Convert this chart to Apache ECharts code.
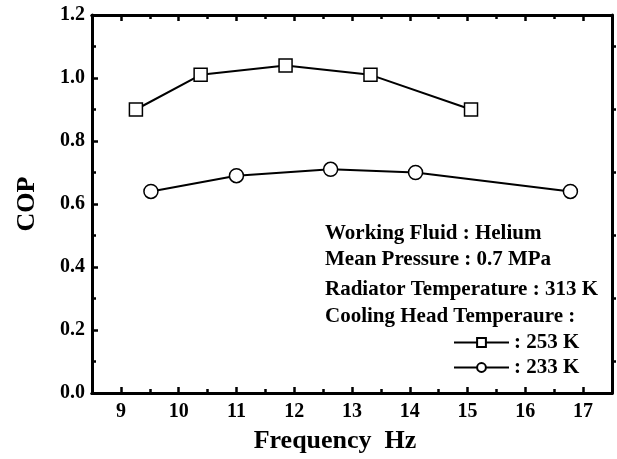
<!DOCTYPE html>
<html>
<head>
<meta charset="utf-8">
<script src="https://cdn.jsdelivr.net/npm/echarts@6/dist/echarts.min.js"></script>
<style>html,body{margin:0;padding:0;background:#fff}#c{width:617px;height:459px}</style>
</head>
<body>
<div id="c"></div>
<script>
const freq253 = [9.26, 10.38, 11.85, 13.32, 15.06];
const cop253 = [0.90, 1.01, 1.04, 1.01, 0.90];
const freq233 = [9.52, 11.0, 12.63, 14.10, 16.78];
const cop233 = [0.64, 0.69, 0.71, 0.70, 0.64];
const seriesNames = ['253 K', '233 K'];
const xMajorTicks = [9, 10, 11, 12, 13, 14, 15, 16, 17];
const xMinorTicks = [8.5, 9.5, 10.5, 11.5, 12.5, 13.5, 14.5, 15.5, 16.5, 17.5];
const annotationLines = ['Working Fluid : Helium', 'Mean Pressure : 0.7 MPa', 'Radiator Temperature : 313 K', 'Cooling Head Temperaure :'];
const xTitle = 'Frequency  Hz';
const yTitle = 'COP';

const FONT = '"Liberation Serif", "Times New Roman", serif';
const chart = echarts.init(document.getElementById('c'));
const axisLine = {show: true, lineStyle: {color: '#000', width: 3}};
const tickStyle = {width: 2.5, color: '#000'};
const labelStyle = {color: '#000', fontFamily: FONT, fontWeight: 'bold', fontSize: 20};
function pairs(xs, ys) { return xs.map((x, i) => [x, ys[i]]); }
function xAx(pos, ticks, len, extra) {
  return Object.assign({
    type: 'value', min: 8.5, max: 17.5, position: pos,
    axisLine: axisLine,
    axisTick: {show: true, inside: true, length: len, customValues: ticks, lineStyle: tickStyle},
    splitLine: {show: false},
    axisLabel: {show: false}
  }, extra || {});
}
const annY = [233, 259, 289, 316];
chart.setOption({
  animation: false,
  grid: {left: 92, right: 5, top: 15, bottom: 66, outerBoundsMode: 'none', containLabel: false},
  xAxis: [
    xAx('bottom', xMajorTicks, 6, {
      axisLabel: Object.assign({show: true, margin: 9, customValues: xMajorTicks}, labelStyle),
      name: xTitle, nameLocation: 'middle', nameGap: 35,
      nameTextStyle: {color: '#000', fontFamily: FONT, fontWeight: 'bold', fontSize: 26, padding: [0, 34, 0, 0]}
    }),
    xAx('bottom', xMinorTicks, 4),
    xAx('top', xMajorTicks, 6),
    xAx('top', xMinorTicks, 4)
  ],
  yAxis: [{
    type: 'value', min: 0, max: 1.2, interval: 0.2, position: 'left',
    axisLine: axisLine,
    axisTick: {show: true, inside: true, length: 6, lineStyle: tickStyle},
    minorTick: {show: true, splitNumber: 2, length: 4, lineStyle: tickStyle},
    splitLine: {show: false},
    axisLabel: Object.assign({margin: 7, formatter: v => v.toFixed(1)}, labelStyle),
    name: yTitle, nameLocation: 'middle', nameGap: 52,
    nameTextStyle: {color: '#000', fontFamily: FONT, fontWeight: 'bold', fontSize: 26}
  }, {
    type: 'value', min: 0, max: 1.2, interval: 0.2, position: 'right',
    axisLine: axisLine,
    axisTick: {show: false},
    minorTick: {show: true, splitNumber: 2, length: 4, lineStyle: tickStyle},
    splitLine: {show: false}, axisLabel: {show: false}
  }],
  legend: {
    orient: 'vertical', left: 453, top: 332, padding: 0, itemWidth: 55, itemHeight: 11, itemGap: 4,
    formatter: n => ': ' + n,
    textStyle: {color: '#000', fontFamily: FONT, fontWeight: 'bold', fontSize: 21},
    data: seriesNames
  },
  series: [{
    name: seriesNames[0], type: 'line', data: pairs(freq253, cop253),
    symbol: 'rect', symbolSize: 13,
    lineStyle: {color: '#000', width: 2},
    itemStyle: {color: '#fff', borderColor: '#000', borderWidth: 1.5}
  }, {
    name: seriesNames[1], type: 'line', data: pairs(freq233, cop233),
    symbol: 'circle', symbolSize: 14,
    lineStyle: {color: '#000', width: 2},
    itemStyle: {color: '#fff', borderColor: '#000', borderWidth: 1.5}
  }],
  graphic: annotationLines.map((t, i) => ({
    type: 'text', left: 325, top: annY[i] - 10,
    style: {text: t, fill: '#000', font: 'bold 21px ' + FONT}
  }))
});
</script>
</body>
</html>
